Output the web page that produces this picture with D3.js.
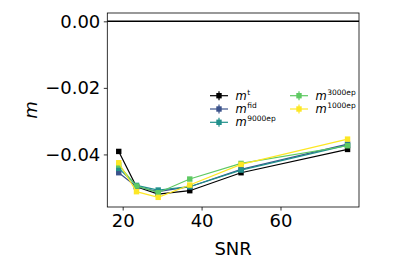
<!DOCTYPE html>
<html>
<head>
<meta charset="utf-8">
<script src="https://cdn.jsdelivr.net/npm/d3@7"></script>
<style>
  body { margin: 0; background: #fff; }
  text { font-family: "DejaVu Sans", sans-serif; }
</style>
</head>
<body>
<div id="vis"></div>
<script>
const FRAME_WIDTH = 399;
const FRAME_HEIGHT = 266;

// data
const snr = [19, 23.5, 29, 37, 50, 77];
const mTrue = [-0.0391, -0.0497, -0.0519, -0.0509, -0.0455, -0.0385];
const mFid = [-0.0455, -0.0497, -0.0512, -0.0497, -0.0445, -0.0369];
const m9000 = [-0.0442, -0.0493, -0.0507, -0.0497, -0.0447, -0.0372];
const m3000 = [-0.0432, -0.0495, -0.0515, -0.0474, -0.0427, -0.0374];
const m1000 = [-0.0425, -0.0512, -0.0529, -0.0492, -0.0430, -0.0354];
const xTicks = [20, 40, 60];
const yTicks = [0, -0.02, -0.04];

const series = [
  {values: mTrue, color: "#000000", sup: "t"},
  {values: mFid, color: "#3b528b", sup: "fid"},
  {values: m9000, color: "#21918c", sup: "9000ep"},
  {values: m3000, color: "#5ec962", sup: "3000ep"},
  {values: m1000, color: "#fde725", sup: "1000ep"}
];

const PLOT = {left: 107.3, right: 359, top: 13, bottom: 207};

const svg = d3.select("#vis")
  .append("svg")
    .attr("width", FRAME_WIDTH)
    .attr("height", FRAME_HEIGHT);

const X_SCALE = d3.scaleLinear().domain([16.1, 79.9]).range([PLOT.left, PLOT.right]);
const Y_SCALE = d3.scaleLinear().domain([0.0025, -0.0558]).range([PLOT.top, PLOT.bottom]);

// zero line
svg.append("line")
  .attr("x1", PLOT.left).attr("x2", PLOT.right)
  .attr("y1", Y_SCALE(0)).attr("y2", Y_SCALE(0))
  .attr("stroke", "#000").attr("stroke-width", 1.5);

const line = d3.line()
  .x((d, i) => X_SCALE(snr[i]))
  .y(d => Y_SCALE(d));

series.forEach(s => {
  svg.append("path")
    .datum(s.values)
    .attr("d", line)
    .attr("fill", "none")
    .attr("stroke", s.color)
    .attr("stroke-width", 1.2);
  svg.selectAll(null)
    .data(s.values)
    .enter()
    .append("rect")
      .attr("x", (d, i) => X_SCALE(snr[i]) - 2.7)
      .attr("y", d => Y_SCALE(d) - 2.7)
      .attr("width", 5.4)
      .attr("height", 5.4)
      .attr("fill", s.color);
});

// axes
const xAxis = svg.append("g")
  .attr("transform", "translate(0," + PLOT.bottom + ")")
  .call(d3.axisBottom(X_SCALE).tickValues(xTicks).tickSize(3.5).tickPadding(3.5).tickFormat(d3.format("d")));
const yAxis = svg.append("g")
  .attr("transform", "translate(" + PLOT.left + ",0)")
  .call(d3.axisLeft(Y_SCALE).tickValues(yTicks).tickSize(3.5).tickPadding(3.5)
    .tickFormat(d => d3.format(".2f")(d).replace("-", "\u2212")));
[xAxis, yAxis].forEach(g => {
  g.select(".domain").remove();
  g.selectAll("text").attr("font-size", 18).attr("fill", "#000")
    .attr("font-family", "DejaVu Sans, sans-serif");
  g.selectAll("line").attr("stroke", "#000").attr("stroke-width", 0.8);
});

// frame
svg.append("rect")
  .attr("x", PLOT.left).attr("y", PLOT.top)
  .attr("width", PLOT.right - PLOT.left).attr("height", PLOT.bottom - PLOT.top)
  .attr("fill", "none").attr("stroke", "#000").attr("stroke-width", 0.8);

// axis labels
svg.append("text")
  .attr("x", (PLOT.left + PLOT.right) / 2).attr("y", 255)
  .attr("text-anchor", "middle").attr("font-size", 18)
  .text("SNR");
svg.append("text")
  .attr("transform", "translate(37," + ((PLOT.top + PLOT.bottom) / 2) + ") rotate(-90)")
  .attr("text-anchor", "middle").attr("font-size", 18)
  .attr("font-style", "italic")
  .text("m");

// legend
const legendPos = [
  {x: 210, y: 95.7}, {x: 210, y: 109}, {x: 210, y: 122.3},
  {x: 290, y: 95.7}, {x: 290, y: 109}
];
series.forEach((s, i) => {
  const p = legendPos[i];
  const g = svg.append("g").attr("transform", "translate(" + p.x + "," + p.y + ")");
  g.append("line").attr("x1", 0).attr("x2", 18).attr("stroke", s.color).attr("stroke-width", 1.2);
  g.append("line").attr("x1", 9).attr("x2", 9).attr("y1", -4.5).attr("y2", 4.5)
    .attr("stroke", s.color).attr("stroke-width", 1.2);
  g.append("rect").attr("x", 6.3).attr("y", -2.7).attr("width", 5.4).attr("height", 5.4)
    .attr("fill", s.color);
  const t = g.append("text").attr("x", 25.5).attr("y", 4).attr("font-size", 11.5);
  t.append("tspan").attr("font-style", "italic").text("m");
  t.append("tspan").attr("font-size", 7.5).attr("dy", -5).attr("dx", 0.5).text(s.sup);
});
</script>
</body>
</html>
